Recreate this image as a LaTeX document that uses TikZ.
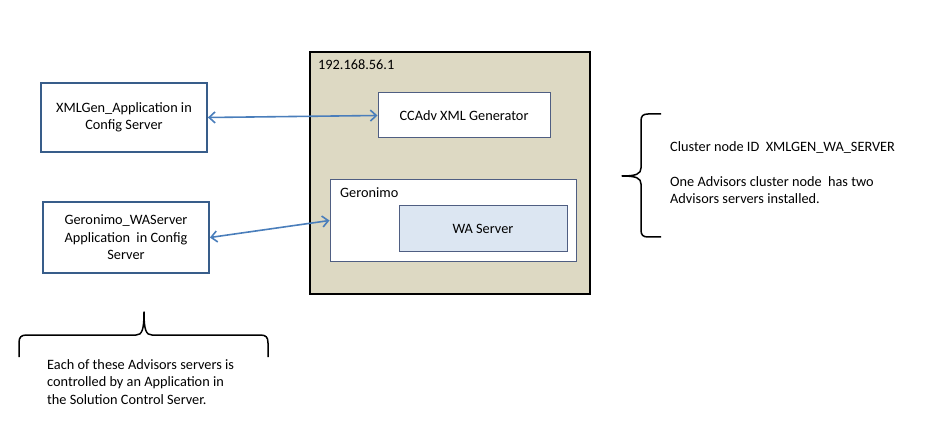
\documentclass[tikz,border=0pt]{standalone}
\usepackage{fontspec}
\setmainfont{Carlito}
\usetikzlibrary{arrows.meta}
\definecolor{tanfill}{HTML}{DDD9C3}
\definecolor{boxblue}{HTML}{385D8A}
\definecolor{innerline}{HTML}{4F5E82}
\definecolor{wafill}{HTML}{DCE6F2}
\definecolor{arrowblue}{HTML}{4A7EBB}
\tikzset{
  every node/.style={font=\fontsize{14.3}{17.5}\selectfont, text=black},
  leftbox/.style={draw=boxblue, line width=1.8pt, fill=white, align=center, inner sep=0pt},
  hostbox/.style={draw=black, line width=1.8pt, fill=tanfill, inner sep=0pt},
  innerbox/.style={draw=innerline, line width=1pt, fill=white, align=center, inner sep=0pt},
  wabox/.style={draw=innerline, line width=1pt, fill=wafill, align=center, inner sep=0pt},
  plain/.style={inner sep=0pt, align=left},
  link/.style={draw=arrowblue, line width=1.6pt, {Straight Barb[length=6pt,width=11pt]}-{Straight Barb[length=6pt,width=11pt]}},
  brace/.style={draw=black, line width=1.5pt, line join=round}
}
\begin{document}
\begin{tikzpicture}[x=1pt,y=-1pt]
\useasboundingbox (0,0) rectangle (928,438);
% left boxes
\node[leftbox, minimum width=166pt, minimum height=69pt] (xmlgen) at (124,117.5) {XMLGen\_Application in\\Config Server};
\node[leftbox, minimum width=166pt, minimum height=71pt] (gwa) at (126,237.5) {Geronimo\_WAServer\\Application\ \ in Config\\Server};
% host box
\node[hostbox, minimum width=280pt, minimum height=242pt] (host) at (450,173) {};
\node[plain, anchor=base west] (hostlbl) at (318,70) {192.168.56.1};
\node[innerbox, minimum width=172pt, minimum height=45pt] (ccadv) at (464,115.5) {CCAdv XML Generator};
\node[innerbox, minimum width=246pt, minimum height=81pt] (geronimo) at (453,220.5) {};
\node[plain, anchor=base west] (gerlbl) at (340,198) {Geronimo};
\node[wabox, minimum width=168pt, minimum height=45pt] (wa) at (483,228.5) {WA Server};
% connectors
\draw[link] (xmlgen.east) -- (ccadv.west);
\draw[link] (gwa.east) -- (geronimo.west);
% right brace
\coordinate (rbtop) at (661,114);
\coordinate (rbtip) at (622,176);
\coordinate (rbbot) at (661,237);
\draw[brace] (rbtop) -- (648,114) .. controls (643,114) and (641,116) .. (641,121) -- (641,168)
  .. controls (641,174) and (636,176) .. (rbtip) .. controls (636,176) and (641,178) .. (641,184)
  -- (641,230) .. controls (641,235) and (643,237) .. (648,237) -- (rbbot);
\node[plain, anchor=base west] (clusterid) at (670,152) {Cluster node ID\ \ XMLGEN\_WA\_SERVER};
\node[plain, anchor=base west] (clusternote) at (670,204) {One Advisors cluster node\ \ has two\\Advisors servers installed.};
% bottom brace
\coordinate (bbleft) at (19,357);
\coordinate (bbtip) at (144,312);
\coordinate (bbright) at (268,357);
\draw[brace] (bbleft) -- (19,343) .. controls (19,337) and (21,335) .. (27,335) -- (136,335)
  .. controls (142,335) and (144,330) .. (bbtip) .. controls (144,330) and (146,335) .. (152,335)
  -- (260,335) .. controls (266,335) and (268,337) .. (268,343) -- (bbright);
\node[plain, anchor=base west] (ctrlnote) at (47,404) {Each of these Advisors servers is\\controlled by an Application in\\the Solution Control Server.};
\end{tikzpicture}
\end{document}
